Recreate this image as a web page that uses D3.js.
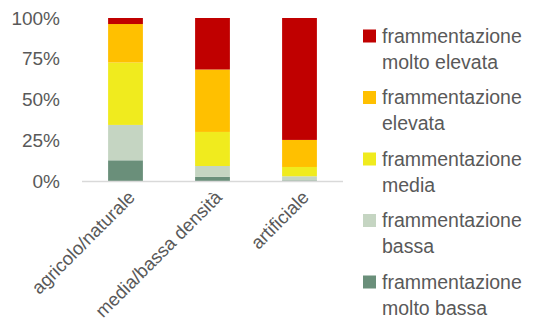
<!DOCTYPE html>
<html><head><meta charset="utf-8">
<script src="https://cdn.jsdelivr.net/npm/d3@7"></script>
<style>body{margin:0;background:#fff}svg{display:block}text{font-family:"Liberation Sans",Arial,sans-serif;fill:#595959}</style>
</head><body><svg id="c" width="536" height="323"></svg>
<script>
const categories = ["agricolo/naturale", "media/bassa densità", "artificiale"];
const seriesNames = ["frammentazione molto bassa", "frammentazione bassa", "frammentazione media", "frammentazione elevata", "frammentazione molto elevata"];
const molto_bassa = [12.7, 2.5, 0.4];
const bassa = [21.7, 6.7, 2.5];
const media = [38.3, 20.9, 5.7];
const elevata = [23.6, 38.3, 16.6];
const molto_elevata = [3.7, 31.6, 74.8];
const yTicks = [0, 25, 50, 75, 100];
const colors = ["#6A8F7A", "#C5D5C2", "#F0EB1E", "#FFC000", "#C00000"];

const seriesVals = [molto_bassa, bassa, media, elevata, molto_elevata];
const keys = ["mb", "b", "m", "e", "me"];
const table = categories.map((c, i) => { const o = {cat: c}; keys.forEach((k, j) => o[k] = seriesVals[j][i]); return o; });
const stacked = d3.stack().keys(keys)(table);

const svg = d3.select("#c");
const x = d3.scaleBand().domain(categories).range([82, 343]).paddingInner(0.6).paddingOuter(0.3);
const y = d3.scaleLinear().domain([0, 100]).range([181, 18]);

// y tick labels
svg.append("g").selectAll("text").data(yTicks).join("text")
  .attr("x", 60).attr("y", d => y(d)).attr("dy", "0.35em")
  .attr("text-anchor", "end").style("font-size", "19px").text(d => d + "%");

// bars
svg.append("g").selectAll("g").data(stacked).join("g")
  .attr("fill", (d, i) => colors[i])
  .selectAll("rect").data(d => d).join("rect")
  .attr("x", d => x(d.data.cat)).attr("width", x.bandwidth())
  .attr("y", d => y(d[1])).attr("height", d => y(d[0]) - y(d[1]));

// axis line
svg.append("line").attr("x1", 82).attr("x2", 343).attr("y1", 181.5).attr("y2", 181.5)
  .attr("stroke", "#D9D9D9").attr("stroke-width", 1.5);

// x labels
svg.append("g").selectAll("text").data(categories).join("text")
  .attr("transform", d => `translate(${x(d) + x.bandwidth() / 2 + 6},${194}) rotate(-45)`)
  .attr("text-anchor", "end").attr("dy", "0.35em").style("font-size", "18.5px").text(d => d);

// legend
const legOrder = [4, 3, 2, 1, 0];
const lg = svg.append("g").selectAll("g").data(legOrder).join("g")
  .attr("transform", (d, i) => `translate(363,${36 + i * 61.5})`);
lg.append("rect").attr("x", 0).attr("y", -6.5).attr("width", 13).attr("height", 13).attr("fill", d => colors[d]);
const lt = lg.append("text").attr("x", 19).style("font-size", "19.5px");
lt.append("tspan").attr("x", 19).attr("dy", "0.35em").text(d => seriesNames[d].split(" ")[0]);
lt.append("tspan").attr("x", 19).attr("dy", 26).text(d => seriesNames[d].split(" ").slice(1).join(" "));
</script></body></html>
